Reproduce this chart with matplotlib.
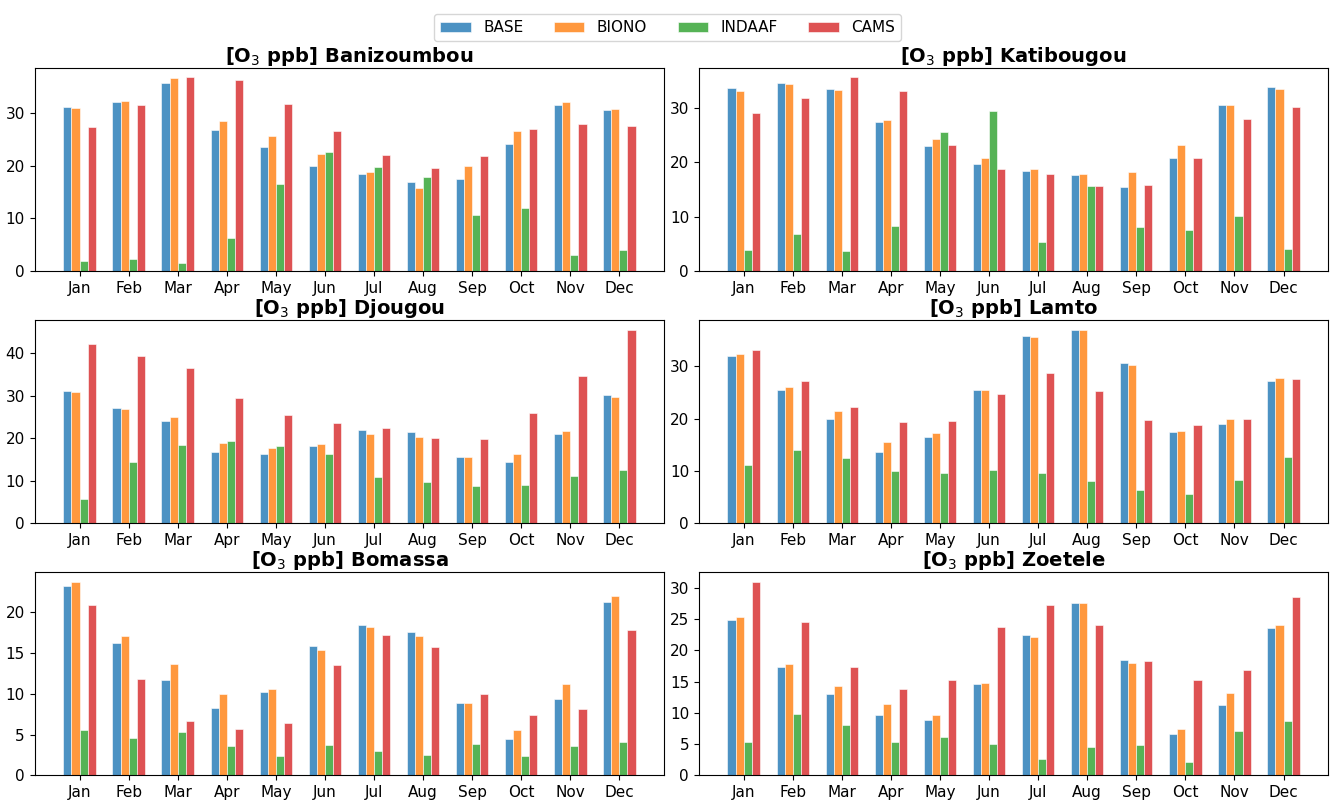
import matplotlib.pyplot as plt
import numpy as np
from matplotlib.ticker import MultipleLocator

months = ['Jan', 'Feb', 'Mar', 'Apr', 'May', 'Jun', 'Jul', 'Aug', 'Sep', 'Oct', 'Nov', 'Dec']
series = ['BASE', 'BIONO', 'INDAAF', 'CAMS']
colors = ['tab:blue', 'tab:orange', 'tab:green', 'tab:red']
stations = ['Banizoumbou', 'Katibougou', 'Djougou', 'Lamto', 'Bomassa', 'Zoetele']

# O3 (ppb) per station: BASE, BIONO, INDAAF, CAMS
banizoumbou_base = [31.0, 32.1, 35.7, 26.7, 23.5, 20.0, 18.4, 16.8, 17.4, 24.1, 31.5, 30.6]
banizoumbou_biono = [30.9, 32.3, 36.5, 28.5, 25.6, 22.1, 18.7, 15.8, 20.0, 26.5, 32.1, 30.8]
banizoumbou_indaaf = [2.0, 2.3, 1.5, 6.2, 16.5, 22.5, 19.7, 17.8, 10.7, 11.9, 3.1, 3.9]
banizoumbou_cams = [27.3, 31.5, 36.7, 36.2, 31.7, 26.5, 21.9, 19.5, 21.8, 26.9, 27.9, 27.5]

katibougou_base = [33.6, 34.6, 33.5, 27.4, 22.9, 19.7, 18.4, 17.6, 15.4, 20.7, 30.5, 33.9]
katibougou_biono = [33.1, 34.4, 33.2, 27.8, 24.3, 20.7, 18.8, 17.9, 18.3, 23.2, 30.5, 33.5]
katibougou_indaaf = [3.9, 6.8, 3.6, 8.3, 25.5, 29.5, 5.4, 15.6, 8.1, 7.6, 10.2, 4.1]
katibougou_cams = [29.0, 31.9, 35.6, 33.1, 23.2, 18.7, 17.8, 15.7, 15.8, 20.7, 28.0, 30.1]

djougou_base = [31.1, 27.2, 24.0, 16.8, 16.2, 18.2, 21.9, 21.5, 15.7, 14.5, 20.9, 30.1]
djougou_biono = [30.8, 27.0, 24.9, 18.8, 17.6, 18.6, 21.0, 20.4, 15.7, 16.4, 21.7, 29.8]
djougou_indaaf = [5.8, 14.4, 18.5, 19.3, 18.2, 16.2, 10.8, 9.7, 8.8, 9.0, 11.1, 12.5]
djougou_cams = [42.1, 39.3, 36.6, 29.4, 25.4, 23.5, 22.5, 20.0, 19.9, 25.9, 34.6, 45.6]

lamto_base = [32.0, 25.5, 19.9, 13.6, 16.5, 25.5, 35.7, 36.9, 30.7, 17.5, 18.9, 27.1]
lamto_biono = [32.3, 26.0, 21.4, 15.5, 17.2, 25.5, 35.6, 37.0, 30.2, 17.6, 20.0, 27.8]
lamto_indaaf = [11.1, 14.0, 12.5, 9.9, 9.5, 10.1, 9.5, 8.1, 6.4, 5.6, 8.3, 12.6]
lamto_cams = [33.0, 27.2, 22.2, 19.3, 19.6, 24.7, 28.7, 25.2, 19.7, 18.7, 20.0, 27.6]

bomassa_base = [23.2, 16.2, 11.7, 8.2, 10.2, 15.8, 18.4, 17.5, 8.9, 4.4, 9.4, 21.2]
bomassa_biono = [23.7, 17.0, 13.6, 9.9, 10.6, 15.4, 18.1, 17.1, 8.8, 5.5, 11.2, 21.9]
bomassa_indaaf = [5.5, 4.6, 5.3, 3.6, 2.4, 3.7, 3.0, 2.5, 3.8, 2.4, 3.6, 4.1]
bomassa_cams = [20.8, 11.8, 6.7, 5.7, 6.4, 13.5, 17.2, 15.7, 10.0, 7.4, 8.1, 17.8]

zoetele_base = [24.8, 17.3, 13.0, 9.6, 8.8, 14.7, 22.4, 27.6, 18.4, 6.7, 11.3, 23.6]
zoetele_biono = [25.4, 17.9, 14.3, 11.5, 9.7, 14.8, 22.2, 27.6, 18.0, 7.5, 13.2, 24.1]
zoetele_indaaf = [5.4, 9.8, 8.0, 5.4, 6.1, 5.1, 2.7, 4.5, 4.9, 2.1, 7.1, 8.7]
zoetele_cams = [31.0, 24.5, 17.4, 13.9, 15.3, 23.7, 27.3, 24.1, 18.3, 15.2, 16.8, 28.6]

data = {
    'Banizoumbou': [banizoumbou_base, banizoumbou_biono, banizoumbou_indaaf, banizoumbou_cams],
    'Katibougou': [katibougou_base, katibougou_biono, katibougou_indaaf, katibougou_cams],
    'Djougou': [djougou_base, djougou_biono, djougou_indaaf, djougou_cams],
    'Lamto': [lamto_base, lamto_biono, lamto_indaaf, lamto_cams],
    'Bomassa': [bomassa_base, bomassa_biono, bomassa_indaaf, bomassa_cams],
    'Zoetele': [zoetele_base, zoetele_biono, zoetele_indaaf, zoetele_cams],
}

fig, axes = plt.subplots(3, 2, figsize=(13.35, 8.06))
plt.subplots_adjust(left=0.026, right=0.995, top=0.916, bottom=0.038, wspace=0.055, hspace=0.24)

x = np.arange(len(months))
width = 0.165
for ax, name in zip(axes.flat, stations):
    for i, vals in enumerate(data[name]):
        ax.bar(x + (i - 1.5) * width, vals, width, color=colors[i], alpha=0.8,
               edgecolor='white', linewidth=0.5, label=series[i])
    ax.set_xticks(x)
    ax.set_xticklabels(months, fontsize=11)
    ax.tick_params(axis='y', labelsize=11)
    ax.set_title('[O$_3$ ppb] ' + name, fontsize=14, fontweight='bold', pad=4)

# Zoetele uses a finer y tick step
axes[2, 1].yaxis.set_major_locator(MultipleLocator(5))

handles, labels = axes[0, 0].get_legend_handles_labels()
fig.legend(handles, labels, loc='upper center', ncol=4, fontsize=11,
           bbox_to_anchor=(0.5, 0.992))

plt.savefig('out.png', dpi=100)
